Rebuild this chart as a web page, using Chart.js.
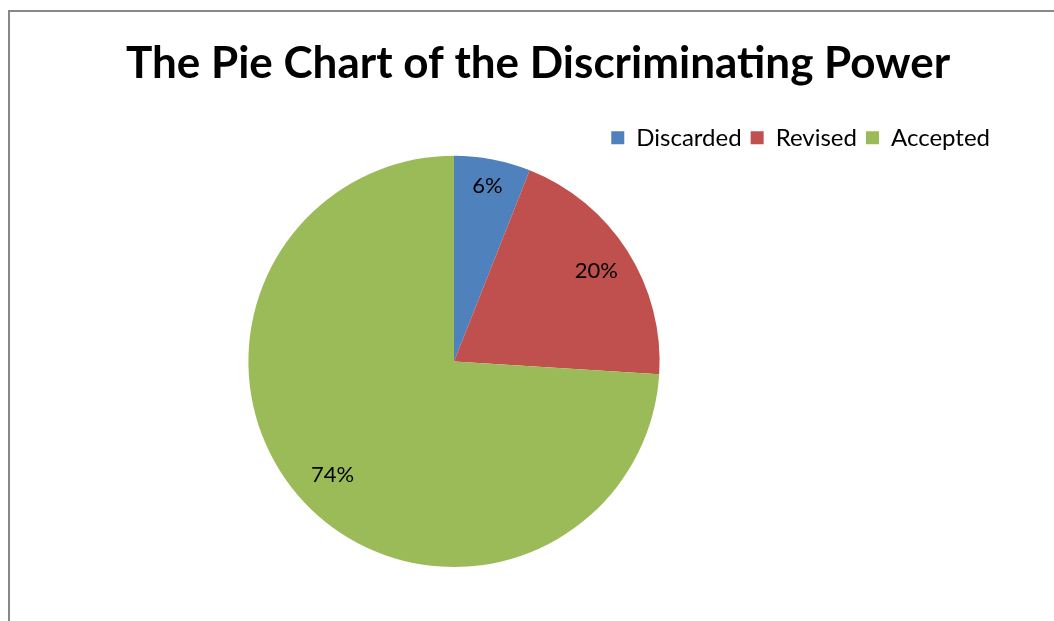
<!DOCTYPE html>
<html>
<head>
<meta charset="utf-8">
<script src="https://cdn.jsdelivr.net/npm/chart.js@4.4.0/dist/chart.umd.min.js"></script>
<style>
    html, body { margin: 0; padding: 0; background: #fff; overflow: hidden; }
    #frame {
        position: absolute; left: 8px; top: 10px;
        width: 1060px; height: 611px;
        border-top: 2px solid #878787;
        border-left: 2px solid #878787;
    }
    #wrap { width: 1056px; height: 609px; }
</style>
</head>
<body>
<div id="frame"><div id="wrap"><canvas id="pieChart"></canvas></div></div>
<script>
const categories = ['Discarded', 'Revised', 'Accepted'];
const percentValues = [6, 20, 74];
const sliceColors = ['#4F81BD', '#C0504D', '#9BBB59'];


// move the pie inside the area left under title and legend
const shiftPiePlugin = {
    id: 'shiftPie',
    afterLayout: function(chart, args, opts) {
        const area = chart.chartArea;
        area.left += opts.dx;
        area.right += opts.dx;
        area.top += opts.dy;
        area.bottom += opts.dy;
    }
};


const sliceLabelPlugin = {
    id: 'sliceLabels',
    afterDatasetsDraw: function(chart, args, opts) {
        const ctx = chart.ctx;
        const meta = chart.getDatasetMeta(0);
        ctx.save();
        ctx.font = opts.font;
        ctx.fillStyle = opts.color;
        ctx.textAlign = 'center';
        ctx.textBaseline = 'middle';
        meta.data.forEach(function(arc, index) {
            const p = arc.getProps(['x', 'y', 'startAngle', 'endAngle', 'outerRadius'], true);
            const mid = (p.startAngle + p.endAngle) / 2;
            const r = p.outerRadius * opts.radius[index];
            const value = chart.data.datasets[0].data[index];
            ctx.fillText(value + '%', p.x + Math.cos(mid) * r, p.y + Math.sin(mid) * r);
        });
        ctx.restore();
    }
};


document.addEventListener('DOMContentLoaded', function() {
    const config = {
        type: 'pie',
        data: {
            labels: categories,
            datasets: [{
                data: percentValues,
                backgroundColor: sliceColors,
                borderWidth: 0,
                hoverOffset: 0
            }]
        },
        options: {
            responsive: true,
            maintainAspectRatio: false,
            animation: false,
            layout: {
                padding: { top: 0, bottom: 50, left: 67, right: 67 }
            },
            plugins: {
                title: {
                    display: true,
                    text: 'The Pie Chart of the Discriminating Power',
                    color: '#000',
                    font: { family: 'Lato', size: 44, weight: 'bold' },
                    padding: { top: 25, bottom: 27 }
                },
                legend: {
                    position: 'top',
                    align: 'end',
                    labels: {
                        color: '#000',
                        font: { family: 'Lato', size: 24 },
                        boxWidth: 13,
                        boxHeight: 13,
                        padding: 9
                    }
                },
                tooltip: { enabled: false },
                shiftPie: { dx: -84, dy: -4 },
                sliceLabels: {
                    font: '22px Lato',
                    color: '#000',
                    radius: [0.87, 0.82, 0.81]
                }
            }
        },
        plugins: [shiftPiePlugin, sliceLabelPlugin]
    };
    const myChart = new Chart(document.getElementById('pieChart'), config);
});
</script>
</body>
</html>
